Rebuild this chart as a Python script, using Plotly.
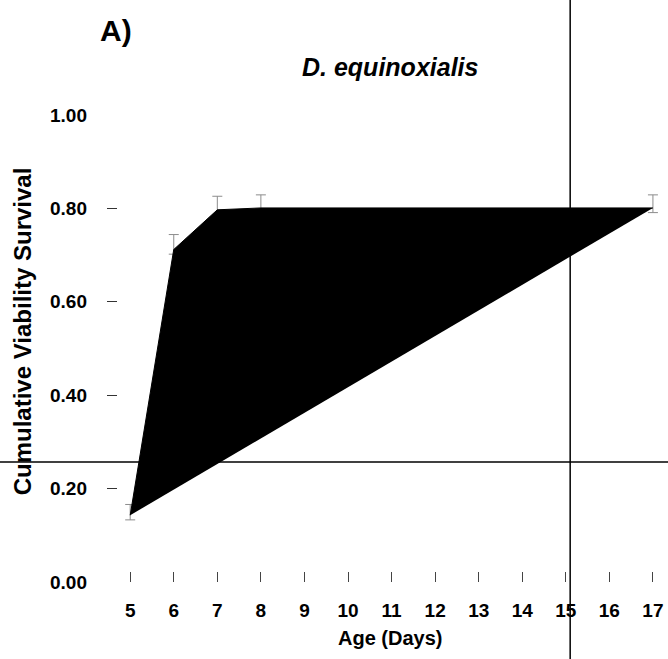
import plotly.graph_objects as go

# ---- data ----
age_days = [5, 6, 7, 8, 17]
survival = [0.143, 0.712, 0.797, 0.801, 0.801]
err_up = [0.023, 0.032, 0.029, 0.028, 0.028]
err_down = [0.010, 0.010, 0.010, 0.010, 0.010]

x_ticks = list(range(5, 18))
y_label_ticks = [0.0, 0.2, 0.4, 0.6, 0.8, 1.0]
y_mark_ticks = [0.2, 0.4, 0.6, 0.8]

ref_line_x = [15.1]     # vertical reference line (age)
ref_line_y = [0.257]    # horizontal reference line (survival)

title_text = "<i>D. equinoxialis</i>"
panel_text = "A)"
x_title = "Age (Days)"
y_title = "Cumulative Viability Survival"

FONT = "Liberation Sans, Arial, sans-serif"

fig = go.Figure()

# error bars (drawn first, underneath the filled polygon)
fig.add_trace(go.Scatter(
    x=age_days, y=survival, mode="markers",
    marker=dict(size=1, color="rgba(0,0,0,0)"),
    error_y=dict(type="data", array=err_up, arrayminus=err_down,
                 color="#8c8c8c", thickness=1, width=5, visible=True),
    yaxis="y", hoverinfo="skip", showlegend=False,
))

# filled survival polygon
fig.add_trace(go.Scatter(
    x=age_days, y=survival, mode="lines", fill="toself",
    fillcolor="black", line=dict(color="black", width=1),
    yaxis="y2", hoverinfo="skip", showlegend=False,
))

for xv in ref_line_x:
    fig.add_shape(type="line", xref="x", yref="paper", x0=xv, x1=xv,
                  y0=-0.5, y1=1.5, line=dict(color="black", width=1.5))
for yv in ref_line_y:
    fig.add_shape(type="line", xref="paper", yref="y", x0=-0.5, x1=1.5,
                  y0=yv, y1=yv, line=dict(color="black", width=1.5))

fig.update_layout(
    width=668, height=659,
    margin=dict(l=118, r=2, t=115, b=77, autoexpand=False),
    paper_bgcolor="white", plot_bgcolor="white",
    showlegend=False,
    font=dict(family=FONT, color="black"),
    xaxis=dict(
        range=[4.72, 17.3], tickvals=x_ticks, automargin=False,
        ticks="inside", ticklen=10, tickwidth=1, tickcolor="#444",
        showline=False, showgrid=False, zeroline=False,
        tickfont=dict(family=FONT, size=19, weight="bold", color="black"),
        ticklabelstandoff=15,
    ),
    yaxis=dict(
        range=[0, 1], tickvals=y_label_ticks, tickformat=".2f", automargin=False,
        ticks="", showline=False, showgrid=False, zeroline=False,
        tickfont=dict(family=FONT, size=19, weight="bold", color="black"),
        ticklabelstandoff=30,
    ),
    yaxis2=dict(
        range=[0, 1], overlaying="y", side="left", anchor="x", automargin=False,
        tickvals=y_mark_ticks, ticks="outside", ticklen=10, tickwidth=1,
        tickcolor="#333", showticklabels=False,
        showline=False, showgrid=False, zeroline=False,
    ),
    annotations=[
        dict(text=panel_text, xref="paper", yref="paper", x=-0.004, y=1.18,
             xanchor="center", yanchor="middle", showarrow=False,
             font=dict(family=FONT, size=30, weight="bold", color="black")),
        dict(text=title_text, xref="paper", yref="paper", x=0.498, y=1.103,
             xanchor="center", yanchor="middle", showarrow=False,
             font=dict(family=FONT, size=25, weight="bold", color="black")),
        dict(text=x_title, xref="paper", yref="paper", x=0.496, y=-0.12,
             xanchor="center", yanchor="middle", showarrow=False,
             font=dict(family=FONT, size=20, weight="bold", color="black")),
        dict(text=y_title, xref="paper", yref="paper", x=-0.175, y=0.537,
             xanchor="center", yanchor="middle", showarrow=False, textangle=-90,
             font=dict(family=FONT, size=24, weight="bold", color="black")),
    ],
)

fig.write_html("out.html",
               config={"displayModeBar": False},
               post_script="document.body.style.margin='0';")
